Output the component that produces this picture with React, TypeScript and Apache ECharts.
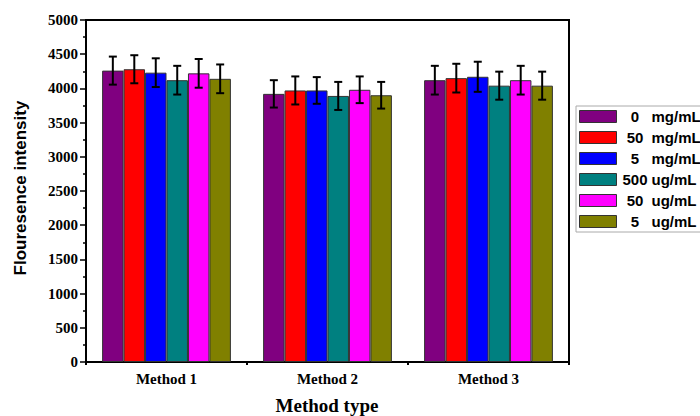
import React, { useEffect, useRef } from "react";
import * as echarts from "echarts";

const categories = ["Method 1", "Method 2", "Method 3"];
const seriesNames = ["0 mg/mL", "50 mg/mL", "5 mg/mL", "500 ug/mL", "50 ug/mL", "5 ug/mL"];
const colors = ["#800080", "#FF0000", "#0000FF", "#008080", "#FF00FF", "#808000"];
const values0 = [4260, 3920, 4120];
const values1 = [4280, 3970, 4150];
const values2 = [4230, 3970, 4170];
const values3 = [4120, 3890, 4040];
const values4 = [4220, 3980, 4120];
const values5 = [4140, 3900, 4040];
const errors0 = [205, 200, 210];
const errors1 = [205, 205, 210];
const errors2 = [210, 195, 220];
const errors3 = [210, 205, 205];
const errors4 = [210, 195, 210];
const errors5 = [210, 195, 205];
const yTicks = [0, 5000, 500];

const allValues = [values0, values1, values2, values3, values4, values5];
const allErrors = [errors0, errors1, errors2, errors3, errors4, errors5];

export default function App() {
  const ref = useRef<HTMLDivElement>(null);
  useEffect(() => {
    document.body.style.margin = "0";
    const chart = echarts.init(ref.current!, null, { renderer: "svg" });
    const nGroup = seriesNames.length;
    const errData: number[][] = [];
    allValues.forEach((vals, s) => {
      vals.forEach((v, c) => errData.push([c, s, v, allErrors[s][c]]));
    });
    const bars = seriesNames.map((name, i) => ({
      name,
      type: "bar",
      data: allValues[i],
      barGap: "0%",
      barCategoryGap: "20%",
      itemStyle: { color: colors[i], borderColor: "#333", borderWidth: 1 },
    }));
    const legendFont = { fontFamily: "Liberation Sans, Arial, sans-serif", fontWeight: "bold", fontSize: 15, color: "#000" };
    const serif = "'Liberation Serif', 'Times New Roman', serif";
    chart.setOption({
      animation: false,
      grid: { left: 86, right: 131, top: 20, bottom: 54, show: true, borderColor: "#000", borderWidth: 2 },
      legend: {
        orient: "vertical",
        left: 576,
        top: 106,
        padding: [3, 4, 3, 3],
        itemWidth: 37,
        itemHeight: 12,
        itemGap: 6,
        icon: "rect",
        borderColor: "#aaa",
        borderWidth: 1,
        data: seriesNames.map((n, i) => ({ name: n, icon: "rect", itemStyle: { color: colors[i], borderColor: "#333", borderWidth: 1 } })),
        formatter: (name: string) => {
          const [n, u] = name.split(" ");
          return `{n|${n}}{u|${u}}`;
        },
        textStyle: {
          rich: {
            n: { width: 27, align: "center", ...legendFont },
            u: { padding: [0, 0, 0, 3], ...legendFont },
          },
        },
      },
      xAxis: [
        {
          type: "category",
          data: categories,
          axisLine: { lineStyle: { color: "#000", width: 2 } },
          axisTick: { alignWithLabel: true, length: 5, lineStyle: { color: "#000", width: 2 } },
          axisLabel: { color: "#000", fontFamily: serif, fontWeight: "bold", fontSize: 15, margin: 9 },
        },
        {
          type: "category",
          data: categories,
          position: "bottom",
          axisLine: { show: false },
          axisTick: { show: true, length: 3, lineStyle: { color: "#000", width: 2 } },
          axisLabel: { show: false },
        },
      ],
      yAxis: {
        type: "value",
        min: yTicks[0],
        max: yTicks[1],
        interval: yTicks[2],
        splitLine: { show: false },
        axisLine: { show: true, lineStyle: { color: "#000", width: 2 } },
        axisTick: { show: true, length: 6, lineStyle: { color: "#000", width: 1.5 } },
        minorTick: { show: true, splitNumber: 2, length: 3, lineStyle: { color: "#000", width: 1.5 } },
        axisLabel: {
          color: "#000",
          fontFamily: serif,
          fontWeight: "bold",
          fontSize: 15,
          margin: 8,
          formatter: (v: number) => String(v),
        },
      },
      graphic: [
        {
          type: "text",
          x: 20,
          y: 188,
          rotation: Math.PI / 2,
          style: {
            text: "Flouresence intensity",
            align: "center",
            verticalAlign: "middle",
            fontFamily: "Liberation Sans, Arial, sans-serif",
            fontWeight: "bold",
            fontSize: 17,
            fill: "#000",
          },
        },
        {
          type: "text",
          x: 327,
          y: 405,
          style: {
            text: "Method type",
            align: "center",
            verticalAlign: "middle",
            fontFamily: serif,
            fontWeight: "bold",
            fontSize: 19,
            fill: "#000",
          },
        },
      ],
      series: [
        ...bars,
        {
          type: "custom",
          data: errData,
          encode: { x: 0, y: 2 },
          z: 10,
          renderItem: (params: any, api: any) => {
            const cat = api.value(0);
            const s = api.value(1);
            const v = api.value(2);
            const e = api.value(3);
            const c = api.coord([cat, v]);
            const band = api.size([1, 0])[0];
            const bw = (band * 0.8) / nGroup;
            const x = c[0] + (s - (nGroup - 1) / 2) * bw;
            const top = api.coord([cat, v + e])[1];
            const bot = api.coord([cat, v - e])[1];
            const st = { stroke: "#000", lineWidth: 2 };
            return {
              type: "group",
              children: [
                { type: "line", shape: { x1: x, y1: top, x2: x, y2: bot }, style: st },
                { type: "line", shape: { x1: x - 4, y1: top, x2: x + 4, y2: top }, style: st },
                { type: "line", shape: { x1: x - 4, y1: bot, x2: x + 4, y2: bot }, style: st },
              ],
            };
          },
        },
      ],
    });
    return () => chart.dispose();
  }, []);
  return <div ref={ref} style={{ width: 700, height: 416 }} />;
}
